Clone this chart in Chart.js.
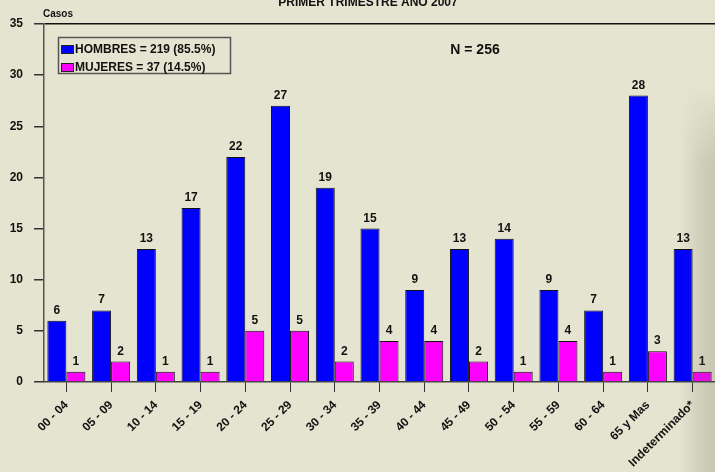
<!DOCTYPE html>
<html>
<head>
<meta charset="utf-8">
<script src="https://cdn.jsdelivr.net/npm/chart.js@4/dist/chart.umd.min.js"></script>
<style>
  html, body { margin: 0; padding: 0; background: #e5e4d0; }
  #wrap { position: relative; width: 715px; height: 472px; overflow: hidden; }
  #shade {
    position: absolute; left: 680px; top: 85px; width: 35px; height: 387px;
    background: linear-gradient(to right, rgba(80,80,60,0), rgba(80,80,60,0.12) 50%, rgba(80,80,60,0.2));
    -webkit-mask-image: linear-gradient(to bottom, transparent, #000 80px);
    mask-image: linear-gradient(to bottom, transparent, #000 80px);
    pointer-events: none;
  }
</style>
</head>
<body>
<div id="wrap">
  <canvas id="bar-chart" width="715" height="472"></canvas>
  <div id="shade"></div>
</div>
<script>
const ageGroups = [
  "00 - 04", "05 - 09", "10 - 14", "15 - 19", "20 - 24", "25 - 29", "30 - 34",
  "35 - 39", "40 - 44", "45 - 49", "50 - 54", "55 - 59", "60 - 64", "65 y Mas", "Indeterminado*"
];
const hombres = [6, 7, 13, 17, 22, 27, 19, 15, 9, 13, 14, 9, 7, 28, 13];
const mujeres = [1, 2, 1, 1, 5, 5, 2, 4, 4, 2, 1, 4, 1, 3, 1];
const yTicks = [0, 5, 10, 15, 20, 25, 30, 35];

const titleText = "PRIMER TRIMESTRE AÑO 2007";
const totalText = "N = 256";
const yTitle = "Casos";

const FONT = "'Liberation Sans', Arial, sans-serif";

// title, axis caption and N label
const textPlugin = {
  id: "texts",
  afterDraw(chart) {
    const ctx = chart.ctx;
    ctx.save();
    ctx.fillStyle = "#111";
    ctx.textBaseline = "alphabetic";
    ctx.font = "bold 12px " + FONT;
    ctx.textAlign = "center";
    ctx.fillText(titleText, 368, 6);
    ctx.font = "bold 10px " + FONT;
    ctx.textAlign = "left";
    ctx.fillText(yTitle, 43, 17);
    ctx.font = "bold 14px " + FONT;
    ctx.textAlign = "center";
    ctx.fillText(totalText, 475, 54);
    ctx.restore();
  }
};

// boxed legend top-left
const boxLegend = {
  id: "boxLegend",
  afterDraw(chart) {
    const ctx = chart.ctx;
    ctx.save();
    ctx.strokeStyle = "#555";
    ctx.lineWidth = 1.5;
    ctx.strokeRect(58.5, 37.5, 172, 36);
    ctx.font = "bold 12px " + FONT;
    ctx.textBaseline = "middle";
    ctx.textAlign = "left";
    chart.data.datasets.forEach((ds, i) => {
      const y = 49 + i * 18;
      ctx.fillStyle = ds.backgroundColor;
      ctx.fillRect(61, y - 4, 13, 9);
      ctx.strokeStyle = "#222";
      ctx.lineWidth = 1;
      ctx.strokeRect(61.5, y - 3.5, 12, 8);
      ctx.fillStyle = "#111";
      ctx.fillText(ds.label, 75, y + 1);
    });
    ctx.restore();
  }
};

// value labels above bars
const valueLabels = {
  id: "valueLabels",
  afterDatasetsDraw(chart) {
    const ctx = chart.ctx;
    ctx.save();
    ctx.font = "bold 12px " + FONT;
    ctx.fillStyle = "#111";
    ctx.textAlign = "center";
    ctx.textBaseline = "alphabetic";
    chart.data.datasets.forEach((ds, di) => {
      const meta = chart.getDatasetMeta(di);
      meta.data.forEach((bar, i) => {
        ctx.fillText(ds.data[i], bar.x, bar.y - 7);
      });
    });
    ctx.restore();
  }
};

const config = {
  type: "bar",
  data: {
    labels: ageGroups,
    datasets: [
      {
        label: "HOMBRES = 219 (85.5%)",
        data: hombres,
        backgroundColor: "#0000ff",
        borderColor: "#111",
        borderWidth: 1,
        barPercentage: 1,
        categoryPercentage: 0.85
      },
      {
        label: "MUJERES = 37 (14.5%)",
        data: mujeres,
        backgroundColor: "#ff00ff",
        borderColor: "#111",
        borderWidth: 1,
        barPercentage: 1,
        categoryPercentage: 0.85
      }
    ]
  },
  options: {
    responsive: false,
    animation: false,
    devicePixelRatio: 1,
    layout: { padding: { top: 24, right: 0, left: 0, bottom: 0 } },
    plugins: {
      legend: { display: false },
      title: { display: false },
      tooltip: { enabled: false }
    },
    scales: {
      x: {
        grid: {
          offset: false,
          drawOnChartArea: false,
          tickLength: 10,
          tickColor: "#333"
        },
        border: { color: "#444", width: 1.5 },
        ticks: {
          autoSkip: false,
          minRotation: 45,
          maxRotation: 45,
          padding: 6,
          color: "#111",
          font: { family: FONT, size: 12, weight: "bold" }
        },
        afterFit(scale) { scale.height = 90; }
      },
      y: {
        min: 0,
        max: 35,
        afterBuildTicks(scale) { scale.ticks = yTicks.map(v => ({ value: v })); },
        grid: {
          color: c => (c.tick && c.tick.value === 35 ? "#111" : "rgba(0,0,0,0)"),
          tickColor: "#333",
          tickLength: 10,
          lineWidth: 1.5
        },
        border: { color: "#555", width: 1.5 },
        ticks: {
          padding: 11,
          color: "#111",
          font: { family: FONT, size: 12, weight: "bold" }
        },
        afterFit(scale) { scale.width = 44; }
      }
    }
  },
  plugins: [valueLabels, boxLegend, textPlugin]
};

new Chart(document.getElementById("bar-chart").getContext("2d"), config);
</script>
</body>
</html>
